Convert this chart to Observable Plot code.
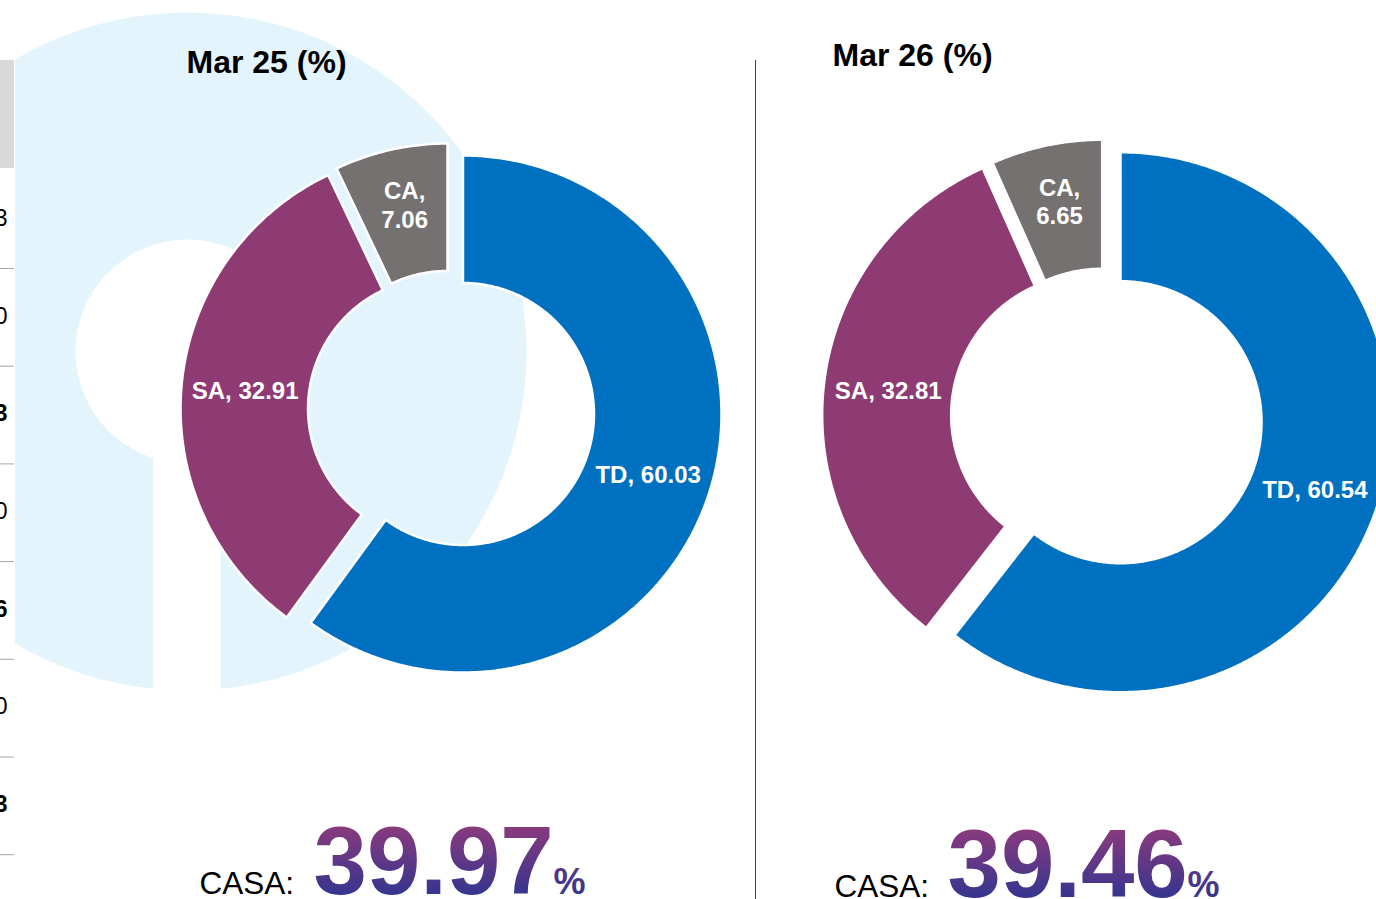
<!DOCTYPE html>
<html>
<head>
<meta charset="utf-8">
<script src="https://cdn.jsdelivr.net/npm/d3@7"></script>
<script src="https://cdn.jsdelivr.net/npm/@observablehq/plot@0.6"></script>
<style>
  html, body { margin: 0; padding: 0; background: #fff; overflow: hidden; }
  #chart svg { display: block; }
</style>
</head>
<body>
<div id="chart"></div>
<script>
// ---------- data ----------
const categories = ["TD", "SA", "CA"];
const periods = ["Mar 25 (%)", "Mar 26 (%)"];
const mar25 = [60.03, 32.91, 7.06];
const mar26 = [60.54, 32.81, 6.65];
const sliceColors = ["#0070C0", "#8E3B73", "#767171"];
const tableDigits = ["3", "0", "3", "0", "6", "0", "3"];
const tableBold = [false, false, true, false, true, false, true];

// ---------- layout (positions / sizes, not data) ----------
const W = 1376, H = 899;
const font = "'Liberation Sans', Arial, Helvetica, sans-serif";
const panels = [
  {values: mar25, cx: 448.7, cy: 409, R: 258.5, r: 131, explode: [14.5, 10.2, 7.7],
   titleX: 186, titleY: 72, casaX: 199, numX: 313, pctX: 553, baseY: 893},
  {values: mar26, cx: 1103.1, cy: 415.9, R: 270, r: 141, explode: [17.9, 11.5, 6.8],
   titleX: 832, titleY: 65, casaX: 834, numX: 947, pctX: 1187, baseY: 896}
];
const watermark = {cx: 187, cy: 351, R: 339, hole: 112, slot: 68};
const table = {right: 14, headerTop: 60, headerBottom: 168, firstRow: 218, firstLine: 268, step: 97.7};

// ---------- geometry from values ----------
const pie = d3.pie().sort(null).value(d => d);
const ringPts = [];
const labels = [];
panels.forEach((p, pi) => {
  pie(p.values).forEach((a, k) => {
    const mid = (a.startAngle + a.endAngle) / 2;
    const ox = p.cx + p.explode[k] * Math.sin(mid);
    const oy = p.cy - p.explode[k] * Math.cos(mid);
    const span = a.endAngle - a.startAngle;
    const n = Math.max(2, Math.ceil(span / (Math.PI / 360)));
    const id = pi + "-" + categories[k];
    const pts = [];
    for (let j = 0; j <= n; j++) {
      const t = a.startAngle + span * j / n;
      pts.push([ox + p.R * Math.sin(t), oy - p.R * Math.cos(t)]);
    }
    for (let j = n; j >= 0; j--) {
      const t = a.startAngle + span * j / n;
      pts.push([ox + p.r * Math.sin(t), oy - p.r * Math.cos(t)]);
    }
    pts.push(pts[0]);
    pts.forEach(([x, y]) => ringPts.push({id, cat: categories[k], x, y}));
    const lr = (p.R + p.r) / 2;
    const v = p.values[k];
    labels.push({
      x: ox + lr * Math.sin(mid),
      y: oy - lr * Math.cos(mid),
      wrap: v < 10,
      text: categories[k] + "," + (v < 10 ? "\n" : " ") + v.toFixed(2)
    });
  });
});
const casa = panels.map(p => (p.values[1] + p.values[2]).toFixed(2));

const labelStyle = {x: "x", y: "y", text: "text", fill: "#fff", fontSize: 24, fontWeight: "bold", fontFamily: font, lineHeight: 1.17};

const chart = Plot.plot({
  width: W,
  height: H,
  margin: 0,
  x: {domain: [0, W], range: [0, W], axis: null},
  y: {domain: [0, H], range: [0, H], axis: null},
  color: {domain: categories, range: sliceColors},
  style: {fontFamily: font, background: "#fff", color: "#000"},
  marks: [
    // watermark logo
    Plot.dot([watermark], {x: "cx", y: "cy", r: watermark.R, fill: "#E3F4FC", stroke: null}),
    Plot.dot([watermark], {x: "cx", y: "cy", r: watermark.hole, fill: "#fff", stroke: null}),
    Plot.rect([watermark], {x1: d => d.cx - d.slot / 2, x2: d => d.cx + d.slot / 2, y1: "cy", y2: d => d.cy + d.R + 4, fill: "#fff"}),
    // table fragment at the left edge
    Plot.rect([0], {x1: 0, x2: 15, y1: 0, y2: H, fill: "#fff"}),
    Plot.rect([0], {x1: 0, x2: table.right, y1: table.headerTop, y2: table.headerBottom, fill: "#D9D9D9"}),
    Plot.ruleY(tableDigits.map((d, i) => table.firstLine + i * table.step), {x1: 0, x2: table.right, stroke: "#A6A6A6", strokeWidth: 1}),
    Plot.text(tableDigits, {filter: (d, i) => !tableBold[i], x: 7, y: (d, i) => table.firstRow + i * table.step, text: d => d,
      textAnchor: "end", fontSize: 23, fontFamily: font, fill: "#000"}),
    Plot.text(tableDigits, {filter: (d, i) => tableBold[i], x: 7, y: (d, i) => table.firstRow + i * table.step, text: d => d,
      textAnchor: "end", fontSize: 23, fontWeight: "bold", fontFamily: font, fill: "#000"}),
    // divider
    Plot.ruleX([755], {y1: 60, y2: H, stroke: "#404040", strokeWidth: 1}),
    // donut slices
    Plot.line(ringPts, {x: "x", y: "y", z: "id", fill: "cat", stroke: "#fff", strokeWidth: 2.5, strokeLinejoin: "miter", curve: "linear"}),
    // slice labels
    Plot.text(labels, {...labelStyle, filter: d => !d.wrap}),
    Plot.text(labels, {...labelStyle, filter: d => d.wrap, dy: -7.5}),
    // titles
    Plot.text(periods, {x: (d, i) => panels[i].titleX, y: (d, i) => panels[i].titleY, text: d => d,
      textAnchor: "start", lineAnchor: "bottom", fontSize: 32, fontWeight: "bold", fontFamily: font, fill: "#000"}),
    // CASA
    Plot.text(casa, {x: (d, i) => panels[i].casaX, y: (d, i) => panels[i].baseY, text: () => "CASA:",
      textAnchor: "start", lineAnchor: "bottom", fontSize: 31.5, fontFamily: font, fill: "#000"}),
    Plot.text(casa, {x: (d, i) => panels[i].numX, y: (d, i) => panels[i].baseY, text: d => d,
      textAnchor: "start", lineAnchor: "bottom", fontSize: 96, fontWeight: "bold", fontFamily: font, fill: "url(#casaGrad)"}),
    Plot.text(casa, {x: (d, i) => panels[i].pctX, y: (d, i) => panels[i].baseY, text: () => "%",
      textAnchor: "start", lineAnchor: "bottom", fontSize: 36, fontWeight: "bold", fontFamily: font, fill: "url(#casaGrad)"})
  ]
});

// gradient for the CASA figures (local text coordinates: baseline at 0)
const ns = "http://www.w3.org/2000/svg";
const defs = document.createElementNS(ns, "defs");
const grad = document.createElementNS(ns, "linearGradient");
grad.setAttribute("id", "casaGrad");
grad.setAttribute("gradientUnits", "userSpaceOnUse");
grad.setAttribute("x1", "0"); grad.setAttribute("x2", "0");
grad.setAttribute("y1", "-69"); grad.setAttribute("y2", "0");
[["0", "#8C3A7C"], ["1", "#37358F"]].forEach(([o, c]) => {
  const s = document.createElementNS(ns, "stop");
  s.setAttribute("offset", o);
  s.setAttribute("stop-color", c);
  grad.appendChild(s);
});
defs.appendChild(grad);
chart.insertBefore(defs, chart.firstChild);

document.getElementById("chart").appendChild(chart);
</script>
</body>
</html>
